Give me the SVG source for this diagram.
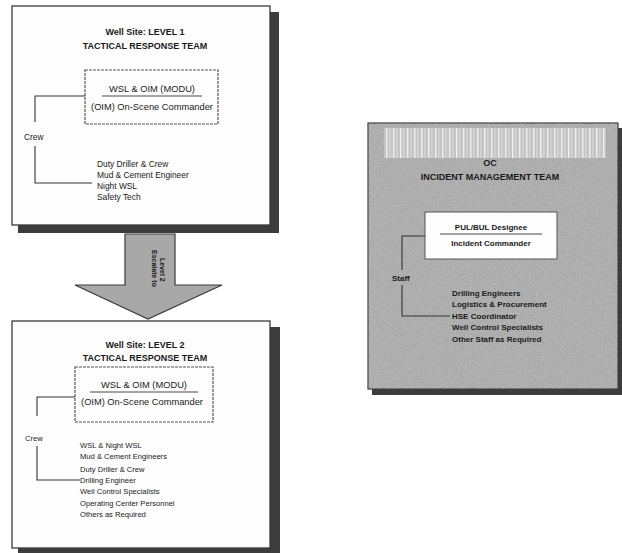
<svg xmlns="http://www.w3.org/2000/svg" width="622" height="553" viewBox="0 0 622 553">
<defs>
<filter id="noise" x="0" y="0" width="100%" height="100%">
<feTurbulence type="fractalNoise" baseFrequency="0.9" numOctaves="2" seed="3" result="n"/>
<feColorMatrix in="n" type="matrix" values="0 0 0 0 0.3  0 0 0 0 0.3  0 0 0 0 0.3  0 0 0 -2 1.3" result="g"/>
<feComposite in="g" in2="SourceGraphic" operator="in"/>
</filter>
<pattern id="stripes" width="7" height="10" patternUnits="userSpaceOnUse">
<rect width="7" height="10" fill="#c4c4c4"/>
<rect x="1" width="1.4" height="10" fill="#f0f0f0"/>
<rect x="4.5" width="0.8" height="10" fill="#e2e2e2"/>
</pattern>
</defs>
<style>
.t{font-family:"Liberation Sans",Arial,sans-serif;fill:#1a1a1a}
.h{font-weight:bold;font-size:9px;text-anchor:middle}
.c{font-size:9.3px;text-anchor:middle}
.i{font-size:8.4px}
.i2{font-size:7.6px}
.r{font-size:8px;font-weight:bold}
.box{fill:#fdfdfd;stroke:#3a3a3a;stroke-width:1.3}
.inner{fill:#fdfdfd;stroke:#555;stroke-width:1.2;stroke-dasharray:3 1}
.sh{fill:#3c3c3c}
.ln{fill:none;stroke:#333;stroke-width:1.1}
.ul{stroke:#333;stroke-width:0.9}
</style>
<rect width="622" height="553" fill="#ffffff"/>

<g id="level1">
<rect class="sh" x="18" y="12" width="261" height="221"/>
<rect class="box" x="12" y="6" width="258" height="219"/>
<text class="t h" x="145" y="35">Well Site: LEVEL 1</text>
<text class="t h" x="145" y="49">TACTICAL RESPONSE TEAM</text>
<rect class="inner" x="85" y="70" width="133" height="54"/>
<text class="t c" x="152" y="92">WSL &amp; OIM (MODU)</text>
<line class="ul" x1="102" y1="96" x2="202" y2="96"/>
<text class="t c" x="152" y="110">(OIM) On-Scene Commander</text>
<text class="t i" x="24" y="140">Crew</text>
<text class="t i" x="97" y="167">Duty Driller &amp; Crew</text>
<text class="t i" x="97" y="178">Mud &amp; Cement Engineer</text>
<text class="t i" x="97" y="189">Night WSL</text>
<text class="t i" x="97" y="200">Safety Tech</text>
</g>

<g id="arrow">
<path d="M125,234 L175,234 L175,285 L222,285 L148,319 L75,285 L125,285 Z" fill="#a8a8a8" stroke="#3a3a3a" stroke-width="1.2"/>
<text class="t" font-size="7px" font-weight="bold" transform="translate(152,250) rotate(90)">Escalate to</text>
<text class="t" font-size="7px" font-weight="bold" transform="translate(160,258) rotate(90)">Level 2</text>
</g>

<g id="level2">
<rect class="sh" x="18" y="327" width="262" height="226"/>
<rect class="box" x="12" y="321" width="258" height="227"/>
<text class="t h" x="145" y="348">Well Site: LEVEL 2</text>
<text class="t h" x="145" y="361">TACTICAL RESPONSE TEAM</text>
<rect class="inner" x="75" y="367" width="138" height="55"/>
<text class="t c" x="144" y="388">WSL &amp; OIM (MODU)</text>
<line class="ul" x1="90" y1="392" x2="198" y2="392"/>
<text class="t c" x="142" y="405">(OIM) On-Scene Commander</text>
<text class="t i2" x="25" y="441">Crew</text>
<text class="t i2" x="80" y="448">WSL &amp; Night WSL</text>
<text class="t i2" x="80" y="459">Mud &amp; Cement Engineers</text>
<text class="t i2" x="80" y="472">Duty Driller &amp; Crew</text>
<text class="t i2" x="80" y="483">Drilling Engineer</text>
<text class="t i2" x="80" y="494">Well Control Specialists</text>
<text class="t i2" x="80" y="506">Operating Center Personnel</text>
<text class="t i2" x="80" y="517">Others as Required</text>
</g>

<g id="oc">
<rect class="sh" x="372" y="128" width="250" height="267"/>
<rect x="368" y="123" width="250" height="266" fill="#b4b4b4" stroke="#3a3a3a" stroke-width="1.2"/>
<rect x="368" y="123" width="250" height="266" fill="#888" filter="url(#noise)" opacity="0.6"/>
<rect x="384" y="128" width="222" height="30" fill="url(#stripes)"/>
<text class="t h" x="490" y="166">OC</text>
<text class="t h" x="490" y="180">INCIDENT MANAGEMENT TEAM</text>
<rect x="425" y="212" width="132" height="47" fill="#fdfdfd" stroke="#555" stroke-width="1"/>
<text class="t r" x="491" y="230" text-anchor="middle">PUL/BUL Designee</text>
<line class="ul" x1="440" y1="234" x2="542" y2="234"/>
<text class="t r" x="491" y="246" text-anchor="middle">Incident Commander</text>
<text class="t r" x="392" y="281">Staff</text>
<text class="t r" x="452" y="296">Drilling Engineers</text>
<text class="t r" x="452" y="307">Logistics &amp; Procurement</text>
<text class="t r" x="452" y="319">HSE Coordinator</text>
<text class="t r" x="452" y="330">Well Control Specialists</text>
<text class="t r" x="452" y="342">Other Staff as Required</text>
</g>

<g id="connectors">
<polyline class="ln" points="85,96 35,96 35,122"/>
<polyline class="ln" points="35,146 35,183 92,183"/>
<polyline class="ln" points="75,397 37,397 37,416"/>
<polyline class="ln" points="37,446 37,480 80,480"/>
<polyline class="ln" points="425,236 402,236 402,270"/>
<polyline class="ln" points="402,285 402,316 450,316"/>
</g>
</svg>
